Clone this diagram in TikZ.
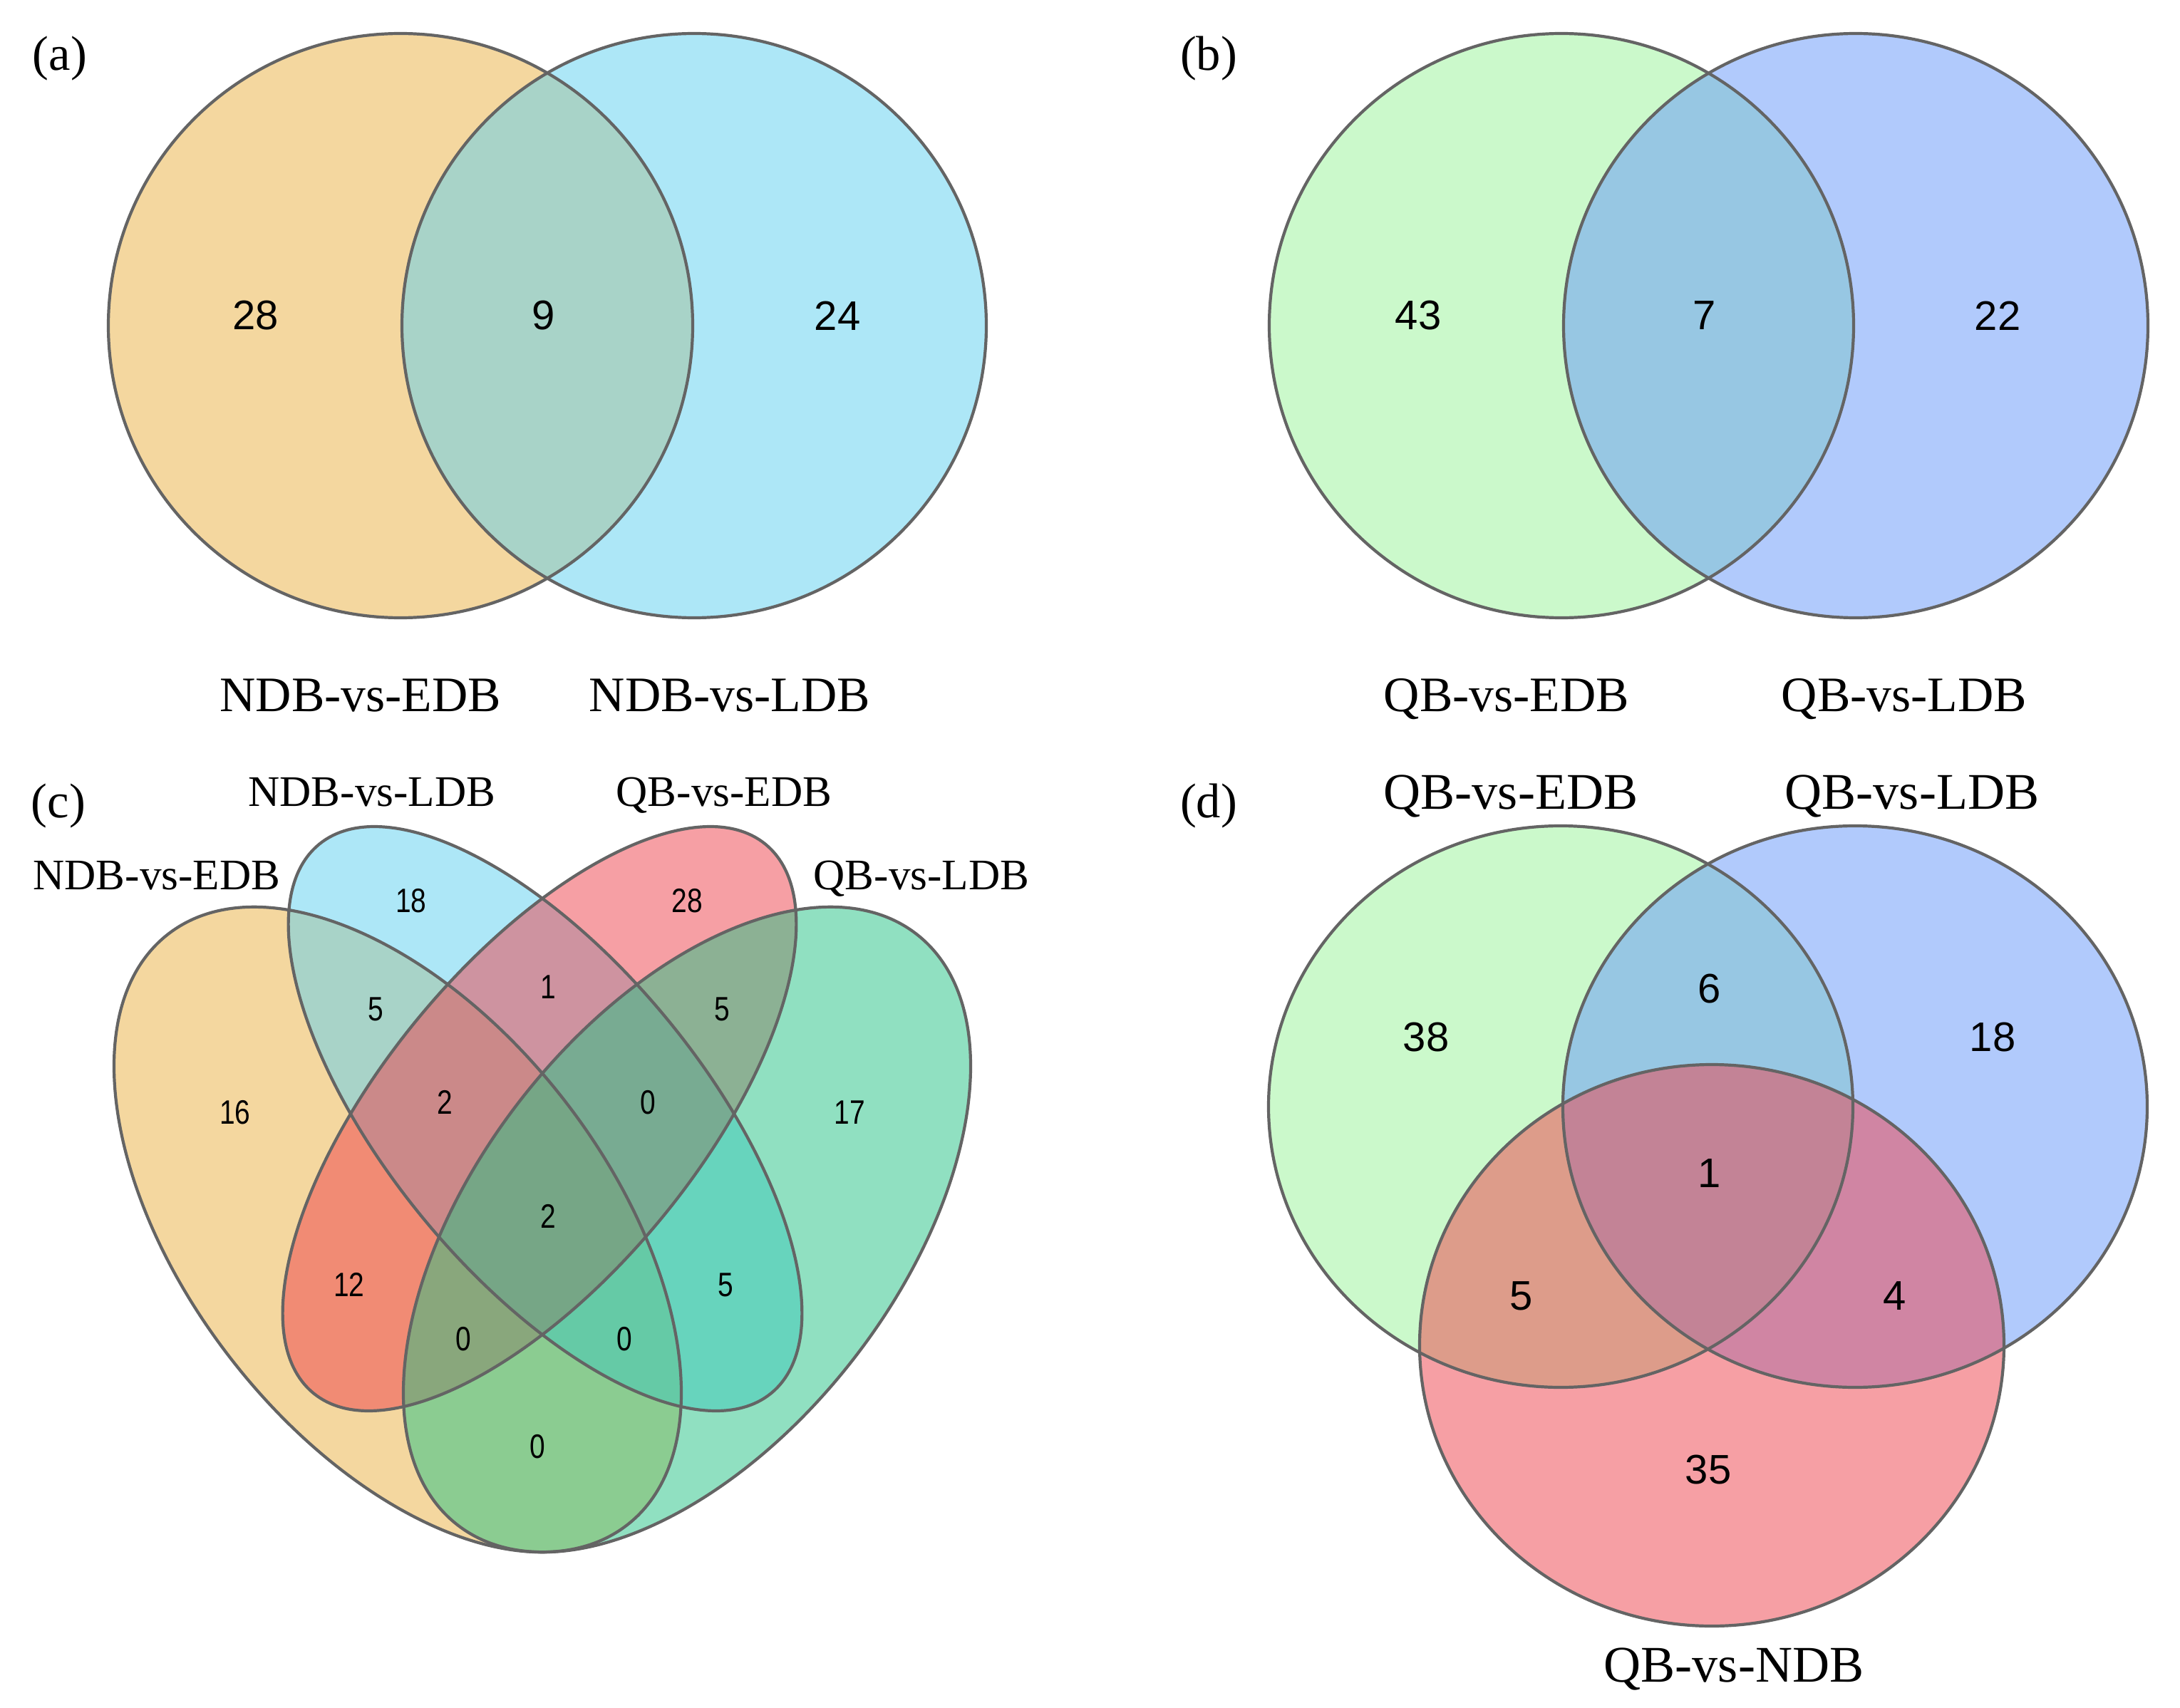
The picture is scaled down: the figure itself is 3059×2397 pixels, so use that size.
\documentclass[tikz,border=0pt]{standalone}
\usepackage{fontspec}
\usepackage{graphicx}
\setmainfont{Liberation Serif}
\newfontfamily\numfont{Liberation Sans}
\definecolor{cOrange}{RGB}{235,177,65}
\definecolor{cSky}{RGB}{93,209,241}
\definecolor{cRose}{RGB}{239,65,75}
\definecolor{cMint}{RGB}{35,195,133}
\definecolor{cLime}{RGB}{153,245,153}
\definecolor{cPeri}{RGB}{101,151,251}
\definecolor{cEdge}{RGB}{100,100,100}
\begin{document}
\begin{tikzpicture}[x=0.01cm, y=-0.01cm,
  setfill/.style={fill=#1, fill opacity=0.5},
  edge/.style={draw=cEdge, line width=0.042cm},
  lab/.style={font=\fontsize{19.8}{22}\selectfont, inner sep=0pt, anchor=base},
  labc/.style={font=\fontsize{17.4}{20}\selectfont, inner sep=0pt, anchor=base},
  labd/.style={font=\fontsize{20.5}{23}\selectfont, inner sep=0pt, anchor=base},
  panel/.style={font=\fontsize{19.5}{22}\selectfont, inner sep=0pt},
  num/.style={font=\numfont\fontsize{16.5}{19}\selectfont, inner sep=0pt},
  numc/.style={font=\numfont\fontsize{13.5}{16}\selectfont, inner sep=0pt},
  ellA/.style={shift={(558,1725.5)}, rotate=-52.15},
  ellB/.style={shift={(765,1570)}, rotate=-50.5},
  ellC/.style={shift={(757,1570)}, rotate=50.5},
  ellD/.style={shift={(964,1725.5)}, rotate=52.15},
]
\fill[white] (0,0) rectangle (3059,2397);
\useasboundingbox (0,0) rectangle (3059,2397);

% ---------------- panel (a)
\fill[setfill=cOrange] (562,457) circle [radius=410];
\fill[setfill=cSky] (974,457) circle [radius=410];
\draw[edge] (562,457) circle [radius=410];
\draw[edge] (974,457) circle [radius=410];
\node[panel] (pa) at (84,82) {(a)};
\node[num] (a1) at (359,443) {28};
\node[num] (a2) at (763,443) {9};
\node[num] (a3) at (1175,443) {24};
\node[lab] (la1) at (506,998) {NDB-vs-EDB};
\node[lab] (la2) at (1024,998) {NDB-vs-LDB};

% ---------------- panel (b)
\fill[setfill=cLime] (2191,457) circle [radius=410];
\fill[setfill=cPeri] (2604,457) circle [radius=410];
\draw[edge] (2191,457) circle [radius=410];
\draw[edge] (2604,457) circle [radius=410];
\node[panel] (pb) at (1696,82) {(b)};
\node[num] (b1) at (1990,443) {43};
\node[num] (b2) at (2392,443) {7};
\node[num] (b3) at (2803,443) {22};
\node[lab] (lb1) at (2114,998) {QB-vs-EDB};
\node[lab] (lb2) at (2672,998) {QB-vs-LDB};

% ---------------- panel (c)
\fill[setfill=cOrange, ellA] (0,0) ellipse [x radius=525, y radius=296];
\fill[setfill=cSky, ellB] (0,0) ellipse [x radius=499, y radius=221];
\fill[setfill=cRose, ellC] (0,0) ellipse [x radius=499, y radius=221];
\fill[setfill=cMint, ellD] (0,0) ellipse [x radius=525, y radius=296];
\draw[edge, ellA] (0,0) ellipse [x radius=525, y radius=296];
\draw[edge, ellB] (0,0) ellipse [x radius=499, y radius=221];
\draw[edge, ellC] (0,0) ellipse [x radius=499, y radius=221];
\draw[edge, ellD] (0,0) ellipse [x radius=525, y radius=296];
\node[panel] (pc) at (82,1131) {(c)};
\node[labc] (lc1) at (220,1248) {NDB-vs-EDB};
\node[labc] (lc2) at (522,1131) {NDB-vs-LDB};
\node[labc] (lc3) at (1016,1131) {QB-vs-EDB};
\node[labc] (lc4) at (1293,1248) {QB-vs-LDB};
\node[numc] (c1) at (577,1264) {\scalebox{0.82}[1]{18}};
\node[numc] (c2) at (964,1264) {\scalebox{0.82}[1]{28}};
\node[numc] (c3) at (527,1416) {\scalebox{0.82}[1]{5}};
\node[numc] (c4) at (769,1385) {\scalebox{0.82}[1]{1}};
\node[numc] (c5) at (1013,1416) {\scalebox{0.82}[1]{5}};
\node[numc] (c6) at (330,1561) {\scalebox{0.82}[1]{16}};
\node[numc] (c7) at (624,1547) {\scalebox{0.82}[1]{2}};
\node[numc] (c8) at (909,1547) {\scalebox{0.82}[1]{0}};
\node[numc] (c9) at (1192,1561) {\scalebox{0.82}[1]{17}};
\node[numc] (c10) at (769,1707) {\scalebox{0.82}[1]{2}};
\node[numc] (c11) at (490,1803) {\scalebox{0.82}[1]{12}};
\node[numc] (c12) at (1018,1803) {\scalebox{0.82}[1]{5}};
\node[numc] (c13) at (650,1879) {\scalebox{0.82}[1]{0}};
\node[numc] (c14) at (876,1879) {\scalebox{0.82}[1]{0}};
\node[numc] (c15) at (754,2030) {\scalebox{0.82}[1]{0}};

% ---------------- panel (d)
\fill[setfill=cLime] (2190,1553) ellipse [x radius=410, y radius=394];
\fill[setfill=cPeri] (2603,1553) ellipse [x radius=410, y radius=394];
\fill[setfill=cRose] (2402,1888) ellipse [x radius=410, y radius=394];
\draw[edge] (2190,1553) ellipse [x radius=410, y radius=394];
\draw[edge] (2603,1553) ellipse [x radius=410, y radius=394];
\draw[edge] (2402,1888) ellipse [x radius=410, y radius=394];
\node[panel] (pd) at (1696,1131) {(d)};
\node[labd] (ld1) at (2120,1135) {QB-vs-EDB};
\node[labd] (ld2) at (2683,1135) {QB-vs-LDB};
\node[labd] (ld3) at (2433,2360) {QB-vs-NDB};
\node[num] (d1) at (2001,1456) {38};
\node[num] (d2) at (2399,1388) {6};
\node[num] (d3) at (2796,1456) {18};
\node[num] (d4) at (2399,1647) {1};
\node[num] (d5) at (2135,1819) {5};
\node[num] (d6) at (2659,1819) {4};
\node[num] (d7) at (2397,2063) {35};
\end{tikzpicture}
\end{document}
